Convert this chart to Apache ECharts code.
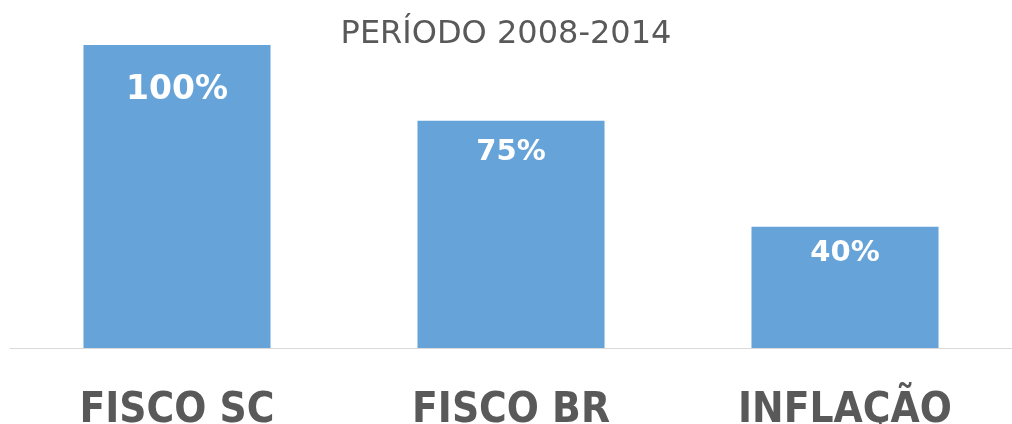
<!DOCTYPE html>
<html>
<head>
<meta charset="utf-8">
<script src="https://cdn.jsdelivr.net/npm/echarts@6/dist/echarts.min.js"></script>
<style>
    html, body { margin: 0; padding: 0; background: #fff; }
    #chart { width: 1012px; height: 424px; }
</style>
</head>
<body>
<div id="chart"></div>
<script type="text/javascript">
    var categories = ['FISCO SC', 'FISCO BR', 'INFLAÇÃO'];
    var values = [100, 75, 40];
    var labelTexts = ['100%', '75%', '40%'];

    var labelSizes = [33, 29, 29];
    var labelOffsets = [29, 17, 12];

    var myChart = echarts.init(document.getElementById('chart'));
    var seriesData = values.map(function (v, i) {
        return {
            value: v,
            label: {
                fontSize: labelSizes[i],
                distance: labelOffsets[i],
                formatter: labelTexts[i]
            }
        };
    });

    var option = {
        animation: false,
        title: {
            text: 'PERÍODO 2008-2014',
            left: 'center',
            top: 14,
            textStyle: {
                color: '#595959',
                fontFamily: 'DejaVu Sans',
                fontWeight: 'normal',
                fontSize: 32
            }
        },
        grid: { left: 10, right: 0, top: 45, bottom: 76, outerBoundsMode: 'none' },
        xAxis: {
            type: 'category',
            data: categories,
            axisLine: { lineStyle: { color: '#d9d9d9', width: 1 } },
            axisTick: { show: false },
            axisLabel: {
                color: '#595959',
                fontFamily: 'DejaVu Sans Condensed, Open Sans',
                fontWeight: 'bold',
                fontSize: 42,
                margin: 42
            }
        },
        yAxis: {
            type: 'value',
            min: 0,
            max: 100,
            show: false,
            splitLine: { show: false }
        },
        series: [{
            type: 'bar',
            data: seriesData,
            barWidth: '56%',
            itemStyle: { color: '#66a3d9' },
            label: {
                show: true,
                position: 'insideTop',
                color: '#ffffff',
                fontFamily: 'DejaVu Sans',
                fontWeight: 'bold'
            }
        }]
    };
    myChart.setOption(option);
</script>
</body>
</html>
